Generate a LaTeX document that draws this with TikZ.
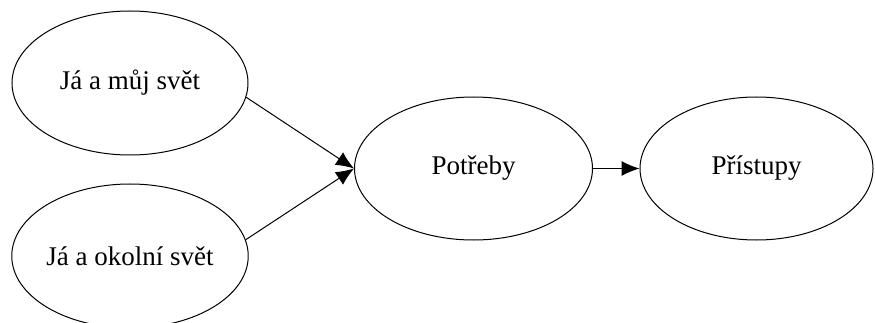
\documentclass[tikz,border=0pt]{standalone}
\usepackage{fontspec}
\setmainfont{Liberation Serif}
\usetikzlibrary{shapes.geometric,arrows.meta}
\begin{document}
\begin{tikzpicture}[x=1pt,y=-1pt,
  bubble/.style={draw, ellipse, line width=1pt, inner sep=0pt,
    minimum width=236pt, minimum height=144pt, font=\fontsize{27}{31}\selectfont},
  link/.style={line width=1pt, -{Latex[length=18pt,width=15pt]}}]
  \useasboundingbox (0,0) rectangle (875,323);
  \clip (0,0) rectangle (875,323);
  \node[bubble] (me)    at (130,83)  {Já a můj svět};
  \node[bubble] (world) at (130,256) {Já a okolní svět};
  \node[bubble, minimum width=238pt, minimum height=143pt] (needs) at (473.5,168.5) {Potřeby};
  \node[bubble, minimum width=233pt, minimum height=143pt] (ways)  at (756.5,168.5) {Přístupy};
  \draw[link] (me.-7) -- (needs.west);
  \draw[link] (world.8) -- (needs.west);
  \draw[link] (needs.east) -- (ways.west);
\end{tikzpicture}
\end{document}
